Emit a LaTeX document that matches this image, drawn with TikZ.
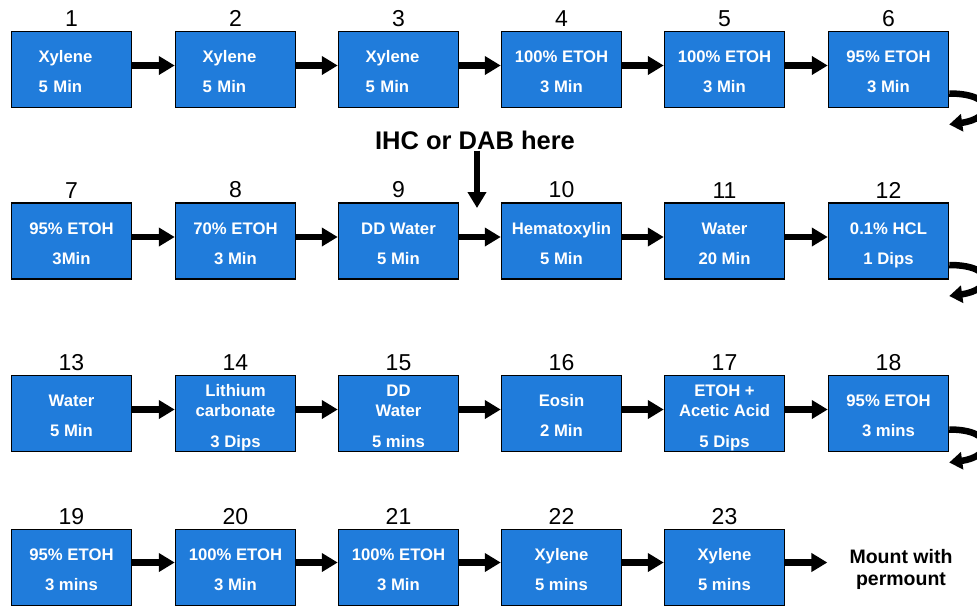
\documentclass[tikz,border=0pt]{standalone}
\usepackage{fontspec}
\setmainfont{Liberation Sans}
\usetikzlibrary{arrows.meta,positioning}
\definecolor{slideblue}{RGB}{32,124,219}

\tikzset{
	stepbox/.style={draw=black, line width=1.5pt, fill=slideblue, text=white, minimum width=120pt, minimum height=76pt, inner sep=0pt, text height=46pt, text depth=0pt, align=center, font=\bfseries\fontsize{16.7}{20}\selectfont},
	threebox/.style={stepbox, text height=67pt},
	leftbox/.style={stepbox, align=left, text width=66pt, text height={}, text depth=26pt},
	num/.style={inner sep=0pt, font=\fontsize{23}{26}\selectfont},
	flow/.style={line width=6.5pt, -{Triangle[length=16pt,width=18pt]}},
	turn/.style={line width=6.5pt, -{Triangle[length=13pt,width=17pt]}},
}

\begin{document}
\begin{tikzpicture}[x=1pt, y=-1pt]
		%%%%% START %%%%%
		\useasboundingbox (0, 0) rectangle (977, 606);
		
		\node[leftbox] (s1) at (71.5, 69.5) {Xylene\\[10pt]5 Min};
		\node[leftbox] (s2) at (235.5, 69.5) {Xylene\\[10pt]5 Min};
		\node[leftbox] (s3) at (398.5, 69.5) {Xylene\\[10pt]5 Min};
		\node[stepbox] (s4) at (561.5, 69.5) {100\% ETOH\\[10pt]3 Min};
		\node[stepbox] (s5) at (724.5, 69.5) {100\% ETOH\\[10pt]3 Min};
		\node[stepbox] (s6) at (888.5, 69.5) {95\% ETOH\\[10pt]3 Min};
		
		\node[stepbox] (s7) at (71.5, 241) {95\% ETOH\\[10pt]3Min};
		\node[stepbox] (s8) at (235.5, 241) {70\% ETOH\\[10pt]3 Min};
		\node[stepbox] (s9) at (398.5, 241) {DD Water\\[10pt]5 Min};
		\node[stepbox] (s10) at (561.5, 241) {Hematoxylin\\[10pt]5 Min};
		\node[stepbox] (s11) at (724.5, 241) {Water\\[10pt]20 Min};
		\node[stepbox] (s12) at (888.5, 241) {0.1\% HCL\\[10pt]1 Dips};
		
		\node[stepbox] (s13) at (71.5, 413.5) {Water\\[10pt]5 Min};
		\node[threebox] (s14) at (235.5, 413.5) {Lithium\\carbonate\\[11pt]3 Dips};
		\node[threebox] (s15) at (398.5, 413.5) {DD\\Water\\[11pt]5 mins};
		\node[stepbox] (s16) at (561.5, 413.5) {Eosin\\[10pt]2 Min};
		\node[threebox] (s17) at (724.5, 413.5) {ETOH +\\Acetic Acid\\[11pt]5 Dips};
		\node[stepbox] (s18) at (888.5, 413.5) {95\% ETOH\\[10pt]3 mins};
		
		\node[stepbox] (s19) at (71.5, 567.5) {95\% ETOH\\[10pt]3 mins};
		\node[stepbox] (s20) at (235.5, 567.5) {100\% ETOH\\[10pt]3 Min};
		\node[stepbox] (s21) at (398.5, 567.5) {100\% ETOH\\[10pt]3 Min};
		\node[stepbox] (s22) at (561.5, 567.5) {Xylene\\[10pt]5 mins};
		\node[stepbox] (s23) at (724.5, 567.5) {Xylene\\[10pt]5 mins};
		
		% step numbers
		\node[num, above=4pt of s1] (n1) {1};
		\node[num, above=4pt of s2] (n2) {2};
		\node[num, above=4pt of s3] (n3) {3};
		\node[num, above=4pt of s4] (n4) {4};
		\node[num, above=4pt of s5] (n5) {5};
		\node[num, above=4pt of s6] (n6) {6};
		\node[num, above=4pt of s7] (n7) {7};
		\node[num, above=4pt of s8] (n8) {8};
		\node[num, above=4pt of s9] (n9) {9};
		\node[num, above=4pt of s10] (n10) {10};
		\node[num, above=4pt of s11] (n11) {11};
		\node[num, above=4pt of s12] (n12) {12};
		\node[num, above=4pt of s13] (n13) {13};
		\node[num, above=4pt of s14] (n14) {14};
		\node[num, above=4pt of s15] (n15) {15};
		\node[num, above=4pt of s16] (n16) {16};
		\node[num, above=4pt of s17] (n17) {17};
		\node[num, above=4pt of s18] (n18) {18};
		\node[num, above=4pt of s19] (n19) {19};
		\node[num, above=4pt of s20] (n20) {20};
		\node[num, above=4pt of s21] (n21) {21};
		\node[num, above=4pt of s22] (n22) {22};
		\node[num, above=4pt of s23] (n23) {23};
		
		% arrows along the rows
		\draw[flow] ([yshift=4pt]s1.east) -- ([yshift=4pt]s2.west);
		\draw[flow] ([yshift=4pt]s2.east) -- ([yshift=4pt]s3.west);
		\draw[flow] ([yshift=4pt]s3.east) -- ([yshift=4pt]s4.west);
		\draw[flow] ([yshift=4pt]s4.east) -- ([yshift=4pt]s5.west);
		\draw[flow] ([yshift=4pt]s5.east) -- ([yshift=4pt]s6.west);
		
		\draw[flow] ([yshift=4pt]s7.east) -- ([yshift=4pt]s8.west);
		\draw[flow] ([yshift=4pt]s8.east) -- ([yshift=4pt]s9.west);
		\draw[flow] ([yshift=4pt]s9.east) -- ([yshift=4pt]s10.west);
		\draw[flow] ([yshift=4pt]s10.east) -- ([yshift=4pt]s11.west);
		\draw[flow] ([yshift=4pt]s11.east) -- ([yshift=4pt]s12.west);
		
		\draw[flow] ([yshift=4pt]s13.east) -- ([yshift=4pt]s14.west);
		\draw[flow] ([yshift=4pt]s14.east) -- ([yshift=4pt]s15.west);
		\draw[flow] ([yshift=4pt]s15.east) -- ([yshift=4pt]s16.west);
		\draw[flow] ([yshift=4pt]s16.east) -- ([yshift=4pt]s17.west);
		\draw[flow] ([yshift=4pt]s17.east) -- ([yshift=4pt]s18.west);
		
		\draw[flow] ([yshift=5pt]s19.east) -- ([yshift=5pt]s20.west);
		\draw[flow] ([yshift=5pt]s20.east) -- ([yshift=5pt]s21.west);
		\draw[flow] ([yshift=5pt]s21.east) -- ([yshift=5pt]s22.west);
		\draw[flow] ([yshift=5pt]s22.east) -- ([yshift=5pt]s23.west);
		
		% turn-around arrows at the row ends
		\draw[turn] ([yshift=-24pt]s6.east) .. controls +(46, 0) and +(44, -6) .. ([yshift=-55pt]s6.east);
		\draw[turn] ([yshift=-24pt]s12.east) .. controls +(46, 0) and +(44, -6) .. ([yshift=-55pt]s12.east);
		\draw[turn] ([yshift=-16pt]s18.east) .. controls +(46, 0) and +(44, -6) .. ([yshift=-49pt]s18.east);
		
		% IHC note
		\node[inner sep=1pt, font=\bfseries\fontsize{25.5}{28}\selectfont] (ihc) at (475, 140) {IHC or DAB here};
		\coordinate (dab) at (477, 208);
		\draw[flow] (ihc.south -| dab) -- (dab);
		
		% last step
		\node[inner sep=0pt, align=center, font=\bfseries\fontsize{19.5}{22}\selectfont] (mount) at (901, 569) {Mount with\\permount};
		\draw[flow, shorten >=22pt] ([yshift=5pt]s23.east) -- ([yshift=5pt]s23.east -| mount.west);
		
		%%%%% END %%%%%
	\end{tikzpicture}
\end{document}
